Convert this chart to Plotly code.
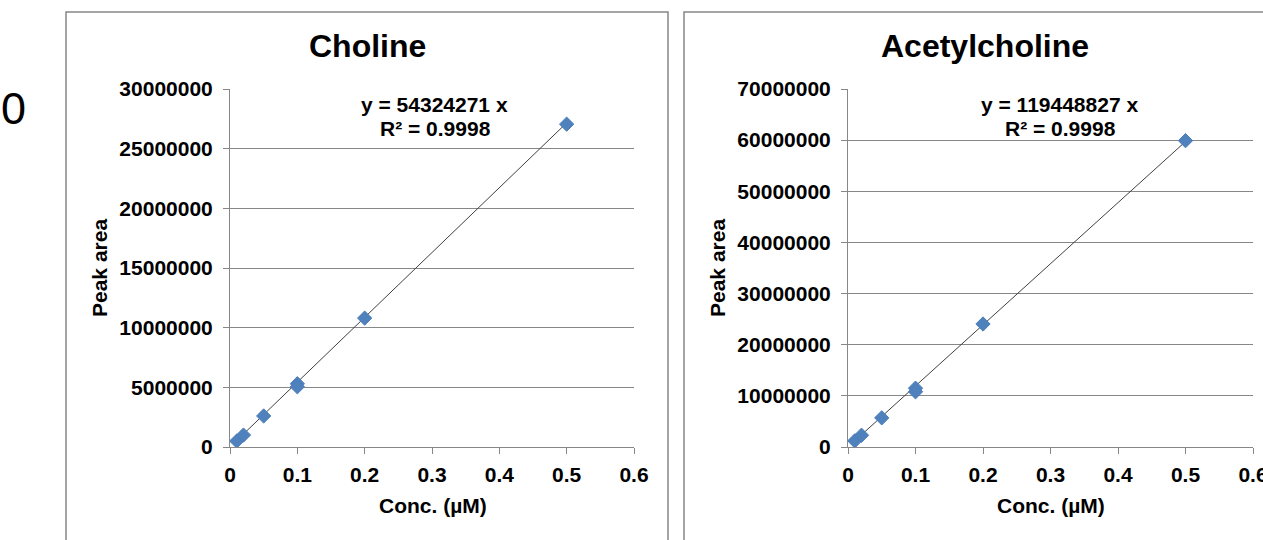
import plotly.graph_objects as go

W, H = 1263, 540

# ---- data ----
choline_conc = [0.01, 0.02, 0.05, 0.1, 0.1, 0.2, 0.5]
choline_area = [0.50e6, 1.0e6, 2.6e6, 5.3e6, 5.05e6, 10.8e6, 27.05e6]
choline_slope = 54324271
choline_eq = "y = 54324271 x"
choline_r2 = "R² = 0.9998"

ach_conc = [0.01, 0.02, 0.05, 0.1, 0.1, 0.2, 0.5]
ach_area = [1.2e6, 2.3e6, 5.7e6, 11.5e6, 10.8e6, 24.05e6, 59.9e6]
ach_slope = 119448827
ach_eq = "y = 119448827 x"
ach_r2 = "R² = 0.9998"

x_ticks = [0, 0.1, 0.2, 0.3, 0.4, 0.5, 0.6]
x_ticklabels = ["0", "0.1", "0.2", "0.3", "0.4", "0.5", "0.6"]
choline_yticks = [0, 5000000, 10000000, 15000000, 20000000, 25000000, 30000000]
ach_yticks = [0, 10000000, 20000000, 30000000, 40000000, 50000000, 60000000, 70000000]

titles = ["Choline", "Acetylcholine"]
x_title = "Conc. (µM)"
y_title = "Peak area"

# ---- styling ----
FONT = "Liberation Sans, Arial, sans-serif"
GRID = "#878787"
BLUE = "#4F81BD"

def px_x(p):
    return p / W

def px_y(p):
    return 1 - p / H

fig = go.Figure()

series = [
    (choline_conc, choline_area, choline_slope, "x", "y"),
    (ach_conc, ach_area, ach_slope, "x2", "y2"),
]
for conc, area, slope, xa, ya in series:
    xs = [min(conc), max(conc)]
    fig.add_trace(go.Scatter(x=xs, y=[slope * v for v in xs], mode="lines",
                             line=dict(color="#404040", width=1),
                             xaxis=xa, yaxis=ya, showlegend=False, hoverinfo="skip"))
    fig.add_trace(go.Scatter(x=conc, y=area, mode="markers",
                             marker=dict(symbol="diamond", size=11, color=BLUE,
                                         line=dict(color="#4A7EBB", width=1)),
                             xaxis=xa, yaxis=ya, showlegend=False))

common_x = dict(range=[0, 0.6], tickvals=x_ticks, ticktext=x_ticklabels,
                showgrid=False, zeroline=False, showline=True, linecolor=GRID, linewidth=1,
                ticks="outside", ticklen=6, tickcolor=GRID, tickwidth=1, automargin=False,
                ticklabeloverflow="allow", ticklabelstandoff=3,
                tickfont=dict(family=FONT, size=21, color="black", weight="bold"),
                fixedrange=True)
common_y = dict(showgrid=True, gridcolor=GRID, gridwidth=1, zeroline=False,
                showline=True, linecolor=GRID, linewidth=1,
                ticks="outside", ticklen=6, tickcolor=GRID, tickwidth=1, automargin=False,
                tickformat="d", ticklabelstandoff=6, ticklabeloverflow="allow",
                tickfont=dict(family=FONT, size=21, color="black", weight="bold"),
                fixedrange=True)

yb, yt = px_y(447), px_y(89)
fig.update_layout(
    width=W, height=H,
    margin=dict(l=0, r=0, t=0, b=0, autoexpand=False),
    paper_bgcolor="white", plot_bgcolor="white",
    xaxis=dict(domain=[px_x(230), px_x(634)], anchor="y", **common_x),
    yaxis=dict(domain=[yb, yt], anchor="x", range=[0, 30000000], tickvals=choline_yticks, **common_y),
    xaxis2=dict(domain=[px_x(848), px_x(1253)], anchor="y2", **common_x),
    yaxis2=dict(domain=[yb, yt], anchor="x2", range=[0, 70000000], tickvals=ach_yticks, **common_y),
)

# panel borders (extend beyond the bottom / right of the view)
for x0, x1 in [(66, 668), (684, 1286)]:
    fig.add_shape(type="rect", xref="paper", yref="paper",
                  x0=px_x(x0), x1=px_x(x1), y0=px_y(560), y1=px_y(12),
                  line=dict(color=GRID, width=1.5), fillcolor="rgba(0,0,0,0)", layer="below")

def ann(text, x, y, size, bold=True, angle=0):
    fig.add_annotation(text=text, x=px_x(x), y=px_y(y), xref="paper", yref="paper",
                       xanchor="center", yanchor="middle", showarrow=False, textangle=angle,
                       font=dict(family=FONT, size=size, color="black",
                                 weight="bold" if bold else "normal"))

ann(titles[0], 367, 46, 32)
ann(titles[1], 985, 46, 32)
ann(x_title, 433, 505, 21)
ann(x_title, 1051, 505, 21)
ann(y_title, 100, 268, 21, angle=-90)
ann(y_title, 718, 268, 21, angle=-90)
ann(choline_eq, 434, 105, 21)
ann(choline_r2, 435, 128, 21)
ann(ach_eq, 1059, 104, 21)
ann(ach_r2, 1060, 128, 21)
ann("0", 13, 109, 45, bold=False)

fig.write_html("out.html")
